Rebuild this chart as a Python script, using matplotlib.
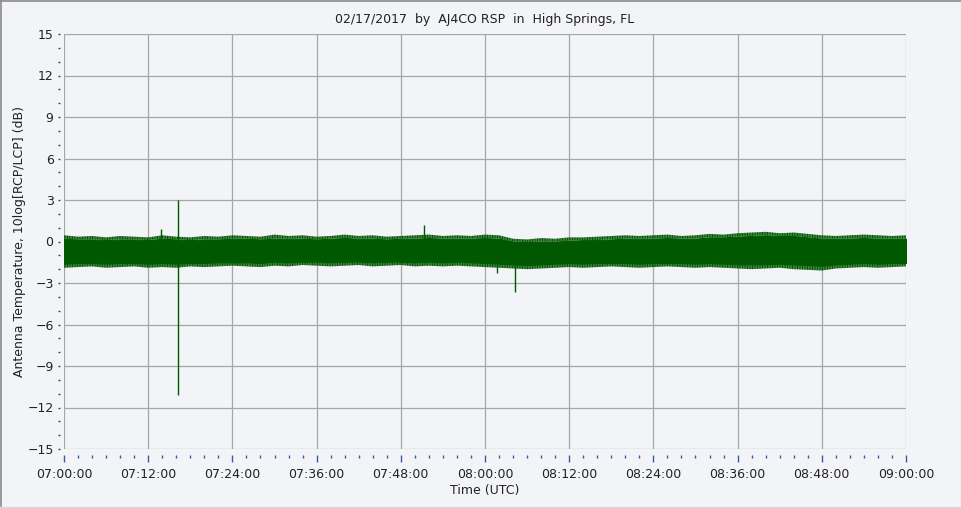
import matplotlib
matplotlib.use("Agg")
import matplotlib.pyplot as plt
from matplotlib.lines import Line2D

# minutes after 07:00 UTC, every 2 minutes
minutes = list(range(0, 122, 2))

# outer fringe of the noise band (dB)
fringe_hi = [0.45, 0.35, 0.40, 0.30, 0.40, 0.35, 0.30, 0.45, 0.35, 0.30,
             0.40, 0.35, 0.45, 0.40, 0.35, 0.50, 0.40, 0.45, 0.35, 0.40,
             0.50, 0.40, 0.45, 0.35, 0.40, 0.45, 0.50, 0.40, 0.45, 0.40,
             0.50, 0.45, 0.20, 0.15, 0.25, 0.20, 0.30, 0.30, 0.35, 0.40,
             0.45, 0.40, 0.45, 0.50, 0.40, 0.45, 0.55, 0.50, 0.60, 0.65,
             0.70, 0.60, 0.65, 0.55, 0.45, 0.40, 0.45, 0.50, 0.45, 0.40,
             0.45]
fringe_lo = [-1.90, -1.85, -1.80, -1.90, -1.85, -1.80, -1.90, -1.85, -1.90, -1.80,
             -1.85, -1.80, -1.75, -1.80, -1.85, -1.75, -1.80, -1.70, -1.75, -1.80,
             -1.75, -1.70, -1.80, -1.75, -1.70, -1.80, -1.75, -1.80, -1.75, -1.80,
             -1.85, -1.90, -1.95, -2.00, -1.95, -1.90, -1.85, -1.90, -1.85, -1.80,
             -1.85, -1.90, -1.85, -1.80, -1.85, -1.90, -1.85, -1.90, -1.95, -2.00,
             -1.95, -1.90, -2.00, -2.05, -2.10, -1.95, -1.90, -1.85, -1.90, -1.85,
             -1.80]
# dense core of the noise band (dB)
core_hi = [0.20, 0.15, 0.15, 0.10, 0.15, 0.15, 0.10, 0.20, 0.15, 0.10,
           0.15, 0.15, 0.20, 0.20, 0.15, 0.20, 0.20, 0.20, 0.15, 0.20,
           0.25, 0.20, 0.20, 0.15, 0.20, 0.20, 0.25, 0.20, 0.20, 0.20,
           0.25, 0.20, 0.00, -0.05, 0.00, 0.00, 0.05, 0.10, 0.10, 0.15,
           0.20, 0.20, 0.20, 0.25, 0.20, 0.20, 0.30, 0.30, 0.35, 0.40,
           0.45, 0.40, 0.40, 0.30, 0.20, 0.20, 0.20, 0.25, 0.20, 0.20,
           0.20]
core_lo = [-1.60, -1.55, -1.55, -1.60, -1.55, -1.55, -1.60, -1.55, -1.60, -1.55,
           -1.55, -1.50, -1.50, -1.50, -1.55, -1.45, -1.50, -1.45, -1.45, -1.50,
           -1.45, -1.45, -1.50, -1.45, -1.45, -1.50, -1.45, -1.50, -1.45, -1.50,
           -1.55, -1.60, -1.65, -1.70, -1.65, -1.60, -1.55, -1.60, -1.55, -1.55,
           -1.55, -1.60, -1.55, -1.55, -1.55, -1.60, -1.55, -1.60, -1.65, -1.65,
           -1.65, -1.60, -1.65, -1.70, -1.75, -1.65, -1.60, -1.55, -1.60, -1.55,
           -1.55]

# isolated spikes
spike_t = [13.8, 16.2, 51.3, 61.7, 64.3]
spike_hi = [0.9, 3.0, 1.2, -0.5, -0.8]
spike_lo = [-0.3, -11.1, 0.0, -2.3, -3.65]

x_ticks = list(range(0, 121, 12))
x_labels = ["07:00:00", "07:12:00", "07:24:00", "07:36:00", "07:48:00", "08:00:00",
            "08:12:00", "08:24:00", "08:36:00", "08:48:00", "09:00:00"]
y_ticks = list(range(-15, 16, 3))

green = "#005800"
bg = "#f3f4f7"
grid_c = "#a6a6a6"
text_c = "#222222"

plt.rcParams["font.family"] = "DejaVu Sans"
plt.rcParams["hatch.linewidth"] = 1.0

fig = plt.figure(figsize=(9.62, 5.08), dpi=100, facecolor=bg)
ax = fig.add_axes([64 / 962, 59 / 508, 842 / 962, 415 / 508])
ax.set_facecolor(bg)

ax.fill_between(minutes, core_lo, core_hi, color=green, linewidth=0.8)
ax.fill_between(minutes, core_hi, fringe_hi, facecolor="none", edgecolor=green,
                hatch="||||||||||", linewidth=0)
ax.fill_between(minutes, fringe_lo, core_lo, facecolor="none", edgecolor=green,
                hatch="||||||||||", linewidth=0)
ax.vlines(spike_t, spike_lo, spike_hi, color=green, linewidth=1.0)

ax.set_xlim(0, 120)
ax.set_ylim(-15, 15)
ax.set_xticks(x_ticks)
ax.set_xticklabels(x_labels)
ax.set_xticks(range(0, 121, 2), minor=True)
ax.set_yticks(y_ticks)
ax.set_yticks(range(-15, 16), minor=True)

ax.grid(True, which="major", color=grid_c, linewidth=0.9)
ax.set_axisbelow(True)
for s in ax.spines.values():
    s.set_visible(False)
ax.spines["bottom"].set_position(("outward", 4))
ax.spines["left"].set_position(("outward", 3))

ax.tick_params(axis="x", which="major", length=5, width=1, color="#3a5aa0",
               labelsize=9, labelcolor=text_c, pad=5)
ax.tick_params(axis="x", which="minor", length=2, width=1, color="#3a5aa0")
ax.tick_params(axis="y", which="both", length=1.5, width=1, color="#444444",
               labelsize=9, labelcolor=text_c, pad=3)

ax.set_xlabel("Time (UTC)", fontsize=9, color=text_c, labelpad=2)
ax.set_ylabel("Antenna Temperature, 10log[RCP/LCP] (dB)", fontsize=9,
              color=text_c, labelpad=1)
ax.set_title("02/17/2017  by  AJ4CO RSP  in  High Springs, FL", fontsize=9,
             color=text_c, pad=8)

# window-like border
fig.add_artist(Line2D([0, 1], [0.999, 0.999], color="#8a8a8a", linewidth=1.2))
fig.add_artist(Line2D([0.001, 0.001], [0, 1], color="#8a8a8a", linewidth=1.2))
fig.add_artist(Line2D([0.999, 0.999], [0, 1], color="#d8d8d8", linewidth=1))
fig.add_artist(Line2D([0, 1], [0.002, 0.002], color="#d8d8d8", linewidth=1))

fig.savefig("out.png", dpi=100, facecolor=bg)
